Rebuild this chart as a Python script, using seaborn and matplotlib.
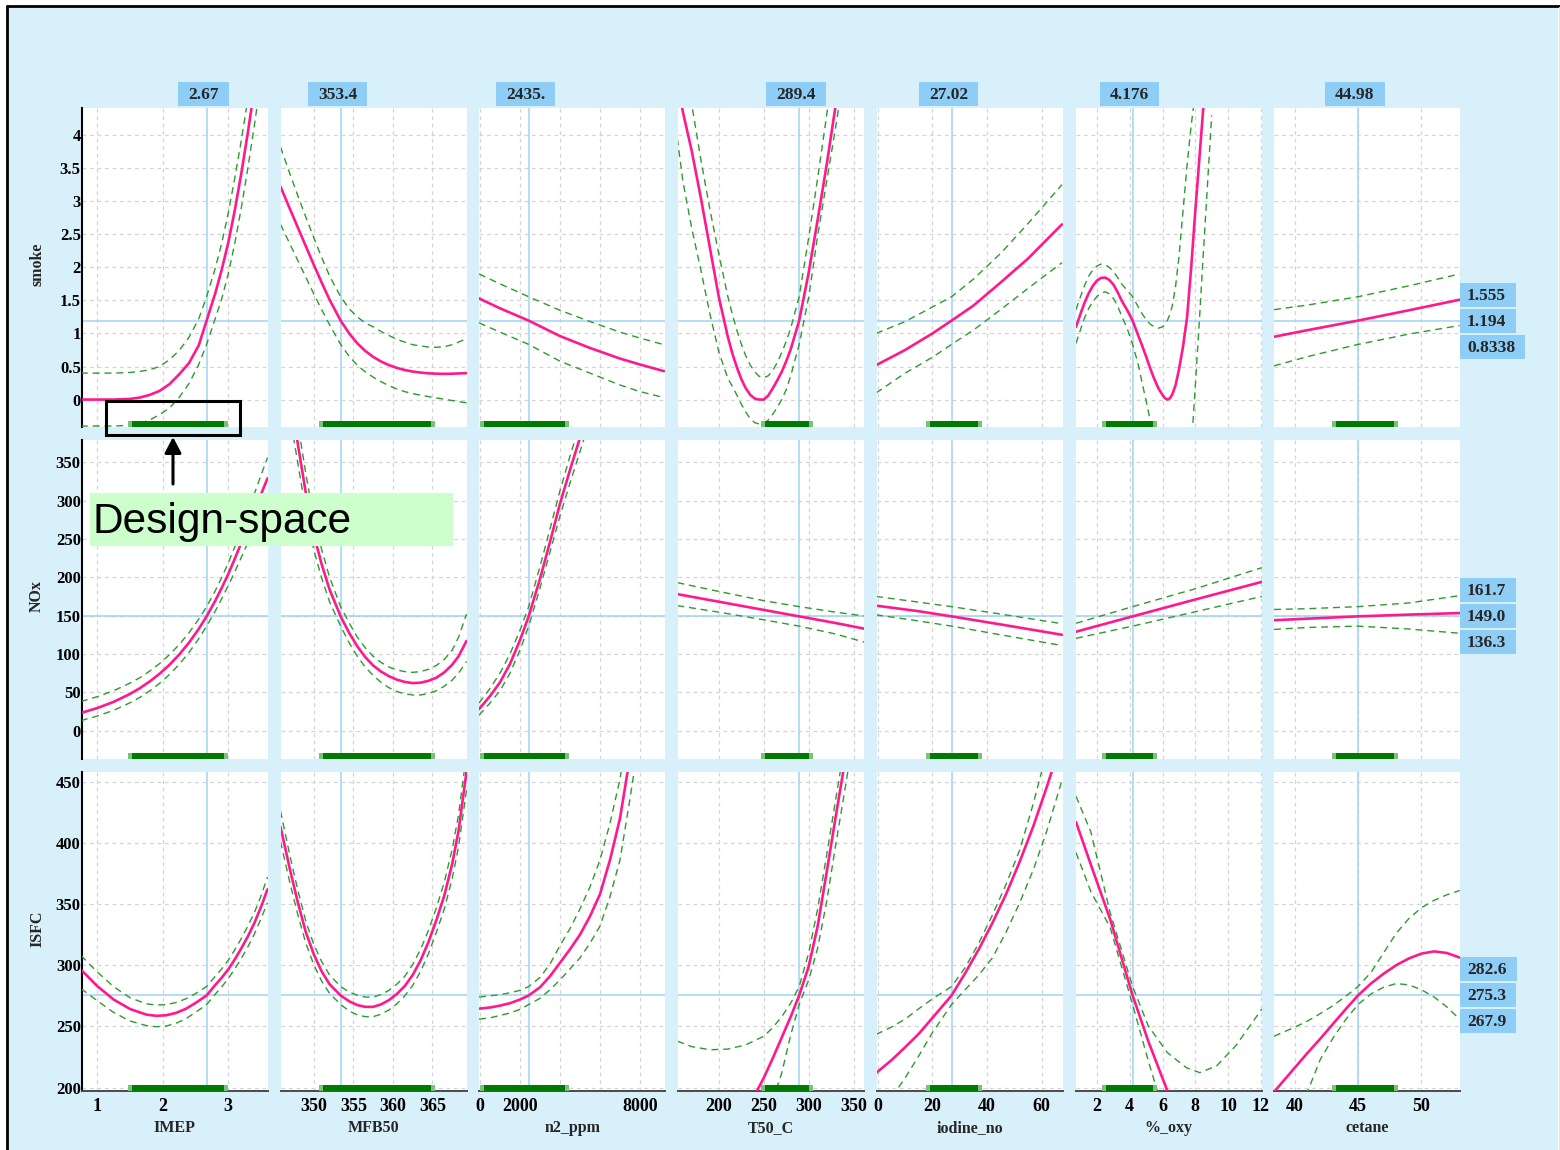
import matplotlib
matplotlib.use("Agg")
import matplotlib.pyplot as plt
from matplotlib import transforms
from matplotlib.patches import Rectangle, FancyArrowPatch
from matplotlib.lines import Line2D
import seaborn as sns

# ---------------------------------------------------------------- factors
factor_names = ["IMEP", "MFB50", "n2_ppm", "T50_C", "iodine_no", "%_oxy", "cetane"]
factor_setting = [2.67, 353.4, 2435.0, 289.4, 27.02, 4.176, 44.98]
factor_setting_text = ["2.67", "353.4", "2435.", "289.4", "27.02", "4.176", "44.98"]
design_low = [1.47, 350.7, 0.0, 247.0, 17.7, 2.3, 42.93]
design_high = [2.99, 365.3, 4450.0, 305.0, 38.2, 5.66, 48.15]
factor_xlim = [(0.76, 3.60), (345.8, 369.3), (-40, 9260), (154.0, 361.0),
               (-0.5, 67.7), (0.69, 12.04), (38.34, 53.05)]
factor_ticks = [[1, 2, 3], [350, 355, 360, 365], [0, 2000, 4000, 6000, 8000],
                [200, 250, 300, 350], [0, 20, 40, 60], [2, 4, 6, 8, 10, 12], [40, 45, 50]]
factor_ticklabels = [["1", "2", "3"], ["350", "355", "360", "365"],
                     ["0", "2000", "", "", "8000"], ["200", "250", "300", "350"],
                     ["0", "20", "40", "60"], ["2", "4", "6", "8", "10", "12"],
                     ["40", "45", "50"]]

# -------------------------------------------------------------- responses
response_names = ["smoke", "NOx", "ISFC"]
response_pred = [1.194, 149.0, 275.3]
response_text = [["1.555", "1.194", "0.8338"],
                 ["161.7", "149.0", "136.3"],
                 ["282.6", "275.3", "267.9"]]
response_ylim = [(-0.415, 4.41), (-37.0, 379.0), (197.3, 457.8)]
response_ticks = [[0, 0.5, 1, 1.5, 2, 2.5, 3, 3.5, 4],
                  [0, 50, 100, 150, 200, 250, 300, 350],
                  [200, 250, 300, 350, 400, 450]]
response_ticklabels = [["0", "0.5", "1", "1.5", "2", "2.5", "3", "3.5", "4"],
                       ["0", "50", "100", "150", "200", "250", "300", "350"],
                       ["200", "250", "300", "350", "400", "450"]]

# ------------------------------------------------------ factor sample points
x_imep = [0.75, 1.0, 1.25, 1.5, 1.65, 1.8, 1.95, 2.1, 2.25, 2.4, 2.55, 2.67, 2.8,
          2.9, 3.0, 3.1, 3.2, 3.3, 3.4, 3.5, 3.6]
x_imep_isfc = [0.75, 1.0, 1.25, 1.5, 1.75, 1.9, 2.05, 2.2, 2.35, 2.5, 2.67, 2.8, 2.9,
               3.0, 3.1, 3.2, 3.3, 3.4, 3.5, 3.6]
x_mfb50 = [345.8, 347, 348, 349, 350, 351, 352, 353.4, 354.5, 355.5, 356.5, 357.5,
           358.5, 359.5, 360.5, 361.5, 362.5, 363.5, 364.5, 365.5, 366.5, 367.5,
           368.3, 369.3]
x_n2_smoke = [-50, 1000, 2435, 4000, 5500, 7000, 8000, 9200]
x_n2_nox = [-50, 500, 1000, 1500, 2000, 2435, 3000, 3500, 4000, 4500, 5000, 5500]
x_n2_isfc = [-50, 500, 1000, 1500, 2000, 2435, 3000, 3500, 4000, 4500, 5000, 5500,
             6000, 6500, 7000, 7500, 8000]
x_t50_smoke = [153.8, 160, 170, 180, 190, 200, 210, 215, 220, 225, 230, 235, 240, 245,
               250, 255, 260, 265, 270, 275, 280, 289.4, 300, 310, 320, 330, 340]
x_t50_nox = [153.8, 200, 250, 289.4, 330, 361.6]
x_t50_isfc = [153.8, 170, 190, 210, 230, 250, 260, 270, 280, 289.4, 300, 310, 320, 330,
              340, 350]
x_iodine = [-0.66, 10, 20, 27.02, 35, 45, 55, 67.5]
x_iodine_nox = [-0.66, 15, 27.02, 45, 67.5]
x_iodine_isfc = [-0.66, 5, 10, 15, 20, 27.02, 32, 37, 42, 47, 52, 57, 62, 67.5]
x_oxy_smoke = [0.72, 1.0, 1.25, 1.5, 1.75, 2.0, 2.25, 2.5, 2.75, 3.0,
               3.25, 3.5, 3.85, 4.176, 4.5, 4.75, 5.0, 5.25, 5.5, 5.75,
               6.0, 6.15, 6.3, 6.45, 6.6, 6.8, 7.0, 7.25, 7.5, 7.75,
               8.0, 8.25, 8.5, 9.0]
x_oxy_nox = [0.72, 4.176, 8.0, 12.06]
x_oxy_isfc = [0.72, 1.63, 2.8, 4.176, 5.13, 6.3, 7.45, 8.27, 9.3, 10.46, 12.06]
x_cetane = [38.34, 41, 44.98, 49, 53.02]
x_cetane_isfc = [38.34, 39, 40, 41, 42, 43, 44, 44.98, 46, 47, 48, 49, 50, 51, 52, 53.02]

# ------------------------------------------------------------------ smoke
smoke_imep = [0.0, 0.0, 0.0, 0.01, 0.03, 0.07, 0.13, 0.23, 0.38, 0.55, 0.82, 1.194, 1.60,
              1.96, 2.37, 2.86, 3.42, 4.04, 4.7, 5.4, 6.1]
smoke_imep_hi = [0.40, 0.40, 0.40, 0.41, 0.425, 0.45, 0.50, 0.60, 0.74, 0.94, 1.22, 1.555,
                 1.98, 2.36, 2.82, 3.35, 3.92, 4.55, 5.2, 5.9, 6.6]
smoke_imep_lo = [-0.40, -0.40, -0.40, -0.39, -0.36, -0.31, -0.23, -0.13, 0.03, 0.24, 0.53,
                 0.834, 1.22, 1.52, 1.90, 2.36, 2.90, 3.5, 4.15, 4.85, 5.55]

smoke_mfb50 = [3.22, 2.88, 2.60, 2.32, 2.04, 1.77, 1.51, 1.194, 0.996, 0.851, 0.736, 0.646,
               0.576, 0.521, 0.479, 0.447, 0.424, 0.408, 0.397, 0.391, 0.389, 0.391,
               0.395, 0.40]
smoke_mfb50_hi = [3.82, 3.41, 3.08, 2.76, 2.45, 2.15, 1.87, 1.555, 1.37, 1.25, 1.16, 1.10,
                  1.03, 0.97, 0.91, 0.87, 0.83, 0.81, 0.795, 0.79, 0.80, 0.83, 0.87, 0.92]
smoke_mfb50_lo = [2.65, 2.35, 2.10, 1.85, 1.60, 1.36, 1.13, 0.834, 0.65, 0.52, 0.42, 0.34,
                  0.27, 0.21, 0.16, 0.12, 0.09, 0.065, 0.045, 0.025, 0.005, -0.015, -0.03,
                  -0.05]

smoke_n2 = [1.53, 1.38, 1.194, 0.96, 0.78, 0.62, 0.53, 0.43]
smoke_n2_hi = [1.90, 1.75, 1.555, 1.35, 1.18, 1.02, 0.93, 0.83]
smoke_n2_lo = [1.16, 1.02, 0.834, 0.58, 0.40, 0.22, 0.12, 0.03]

smoke_t50 = [4.8, 4.35, 3.75, 3.05, 2.30, 1.55, 0.95, 0.70, 0.49, 0.31, 0.17, 0.07, 0.015,
             0.0, 0.0, 0.06, 0.17, 0.29, 0.42, 0.58, 0.76, 1.194, 1.92, 2.72, 3.55, 4.45, 5.4]
smoke_t50_hi = [5.8, 5.25, 4.45, 3.63, 2.88, 2.2, 1.56, 1.29, 1.05, 0.84, 0.66, 0.52, 0.42,
                0.35, 0.33, 0.36, 0.44, 0.56, 0.71, 0.88, 1.08, 1.555, 2.45, 3.35, 4.3, 5.3, 6.3]
smoke_t50_lo = [3.95, 3.3, 2.58, 1.96, 1.30, 0.72, 0.32, 0.20, 0.07, -0.07, -0.19, -0.29,
                -0.35, -0.37, -0.36, -0.31, -0.22, -0.12, 0.0, 0.15, 0.36, 0.834, 1.55, 2.48,
                3.30, 4.12, 5.0]

smoke_iodine = [0.52, 0.75, 1.0, 1.194, 1.42, 1.77, 2.13, 2.65]
smoke_iodine_hi = [1.00, 1.18, 1.40, 1.555, 1.82, 2.21, 2.66, 3.25]
smoke_iodine_lo = [0.10, 0.40, 0.64, 0.834, 1.05, 1.36, 1.68, 2.07]

smoke_oxy = [1.10, 1.30, 1.47, 1.61, 1.72, 1.80, 1.84, 1.845, 1.81, 1.74,
             1.63, 1.50, 1.35, 1.194, 0.98, 0.82, 0.65, 0.47, 0.31, 0.17,
             0.07, 0.02, 0.0, 0.02, 0.08, 0.22, 0.45, 0.80, 1.25, 2.0,
             2.85, 3.65, 4.45, 6.0]
smoke_oxy_hi = [1.36, 1.56, 1.73, 1.87, 1.96, 2.02, 2.05, 2.04, 2.00, 1.94,
                1.85, 1.75, 1.65, 1.555, 1.41, 1.30, 1.21, 1.14, 1.10, 1.08,
                1.10, 1.14, 1.20, 1.29, 1.42, 1.72, 2.15, 2.85, 3.55, 4.15,
                4.65, 5.15, 5.65, 6.8]
smoke_oxy_lo = [0.85, 1.06, 1.24, 1.38, 1.48, 1.56, 1.61, 1.63, 1.60, 1.53,
                1.42, 1.27, 1.07, 0.834, 0.55, 0.26, -0.02, -0.32, -0.6, -0.88,
                -1.1, -1.25, -1.4, -1.5, -1.6, -1.7, -1.7, -1.6, -1.3, -0.75,
                0.2, 1.2, 2.25, 4.3]

smoke_cetane = [0.95, 1.05, 1.194, 1.35, 1.51]
smoke_cetane_hi = [1.36, 1.43, 1.555, 1.72, 1.90]
smoke_cetane_lo = [0.51, 0.65, 0.834, 0.99, 1.12]

# -------------------------------------------------------------------- NOx
nox_imep = [23, 29.4, 37.5, 47.8, 55.3, 64, 74, 85.6, 99, 114.6, 132.6, 149.0, 169, 186,
            204, 224, 245, 266, 287, 308, 329]
nox_imep_hi = [38, 44.2, 52, 62, 69, 77.5, 87.3, 98.8, 112, 127.5, 145.4, 161.7, 182,
               199.5, 218.5, 239.5, 261.5, 285, 309, 333, 356]
nox_imep_lo = [13, 19, 26.5, 36.3, 43.3, 51.7, 61.5, 72.9, 86.2, 101.8, 119.8, 136.3,
               155.5, 172, 189, 207, 226, 245, 264, 283, 302]

nox_mfb50 = [530, 445, 373, 310, 256, 217, 184, 149.0, 127, 110, 96, 85, 77, 71, 66.5,
             63.5, 62, 62.5, 65, 69, 76, 86, 97, 117]
nox_mfb50_hi = [575, 480, 400, 335, 278, 236, 200, 161.7, 140, 122, 108, 97, 89, 83, 79,
                77, 76, 77, 80, 85, 93, 105, 122, 152]
nox_mfb50_lo = [490, 410, 348, 287, 236, 199, 168, 136.3, 114, 97, 83, 72, 63, 56, 51,
                48, 46.5, 46.5, 48.5, 52, 58, 66, 75, 90]

nox_n2 = [28, 45, 63, 87, 118, 149.0, 198, 246, 296, 340, 382, 425]
nox_n2_hi = [36, 55, 75, 100, 131, 161.7, 214, 263, 313, 358, 400, 445]
nox_n2_lo = [20, 36, 52, 75, 105, 136.3, 186, 233, 280, 323, 364, 405]

nox_t50 = [178, 168.1, 157.4, 149.0, 140.3, 133]
nox_t50_hi = [193, 181.5, 169.5, 161.7, 154.5, 149.5]
nox_t50_lo = [163, 154.5, 144.5, 136.3, 126, 115.5]

nox_iodine = [163, 155.7, 149.0, 138.5, 125]
nox_iodine_hi = [175, 167.5, 161.7, 152, 139.5]
nox_iodine_lo = [151, 143, 136.3, 125, 111]

nox_oxy = [129, 149.0, 171, 194]
nox_oxy_hi = [140, 161.7, 185, 212.5]
nox_oxy_lo = [120.4, 136.3, 155, 175]

nox_cetane = [144, 146, 149.0, 151.3, 153.3]
nox_cetane_hi = [158, 159, 161.7, 166.5, 176]
nox_cetane_lo = [132, 134.5, 136.3, 132.5, 127]

# ------------------------------------------------------------------- ISFC
isfc_imep = [296.5, 283, 272, 264.3, 259.7, 258.7, 259.1, 261, 264.3, 269.1, 275.3, 283.7,
             289.8, 296.5, 304.7, 313.8, 323.5, 334.5, 347.5, 362]
isfc_imep_hi = [308, 294.5, 282.5, 273.5, 268.5, 267.5, 267.8, 269.5, 272.5, 276.8, 282.6,
                290.8, 297, 304, 312.5, 321.8, 332, 343, 356.5, 372]
isfc_imep_lo = [281, 271, 261.5, 254.5, 250.7, 249.8, 250.3, 252.5, 256.2, 261.5, 267.9,
                276.3, 282.3, 289, 297, 305.5, 315, 325.5, 338, 351]

isfc_mfb50 = [413, 378, 351, 327, 309, 295, 284.5, 275.3, 270.5, 267.5, 266, 266, 268,
              271.5, 276.5, 283, 292, 304, 319, 337, 357, 383, 410, 458]
isfc_mfb50_hi = [426, 389, 361, 336, 317, 303, 292, 282.6, 278, 275.5, 274, 274, 276,
                 279.5, 284.5, 291, 300.5, 313, 328.5, 347, 368, 395, 423, 473]
isfc_mfb50_lo = [401, 367, 341, 318, 300.5, 287, 277, 267.9, 262.5, 259.5, 258, 258, 260,
                 263.5, 268.5, 275, 283.5, 295, 309.5, 327, 346, 371, 397, 443]

isfc_n2 = [264.5, 265.5, 267, 269, 272, 275.3, 282, 291, 302, 313, 325, 340, 358, 386,
           420, 470, 528]
isfc_n2_hi = [274, 275, 276, 277.5, 279.5, 282.6, 290, 301, 316, 330, 346, 364, 386, 416,
              452, 505, 565]
isfc_n2_lo = [256, 257, 259, 261, 264, 267.9, 273, 280, 288, 297, 306, 318, 332, 356,
              386, 436, 490]

isfc_t50 = [120, 130, 145, 160, 180, 208, 224, 241, 258, 275.3, 299, 332, 376, 421, 465, 510]
isfc_t50_hi = [238, 233.5, 231, 231.5, 235, 242, 249, 258, 269, 282.6, 310, 346, 390, 435,
               480, 525]
isfc_t50_lo = [100, 110, 120, 135, 150, 170, 190, 212, 243, 267.9, 288, 314, 352, 398,
               442, 487]

isfc_iodine = [212, 222.5, 233, 244, 257, 275.3, 293.5, 313, 334.5, 358, 384.5, 413.5,
               446, 484]
isfc_iodine_hi = [243.5, 249.5, 256, 264.5, 272.5, 282.6, 298, 318, 341, 366, 394, 432,
                  475, 525]
isfc_iodine_lo = [178, 192, 208, 226, 245, 267.9, 280, 292, 306, 327, 351, 378, 410, 451]

isfc_oxy = [417, 382, 337.8, 275.3, 238, 197.3, 155, 123, 83, 38, -25]
isfc_oxy_hi = [438, 408.7, 343.2, 282.6, 250.5, 228.6, 216.4, 212.3, 217.8, 234.1, 264.2]
isfc_oxy_lo = [392, 360, 331, 267.9, 222, 170, 122, 86, 42, -10, -80]

isfc_cetane = [196.5, 204.5, 216.5, 228.5, 240, 252, 264, 275.3, 285, 293, 300, 305.5,
               309.5, 311.3, 310, 306.3]
isfc_cetane_hi = [242, 245, 249.5, 254.5, 260.5, 267, 274.5, 282.6, 294, 310, 326, 338,
                  347, 353, 357.5, 361]
isfc_cetane_lo = [120, 140, 165, 197, 223, 240.5, 255.5, 267.9, 276.5, 282, 285, 284,
                  280, 274, 266, 256]

# (x, prediction, lower bound, upper bound) for each response row / factor column
curves = [
    [(x_imep, smoke_imep, smoke_imep_lo, smoke_imep_hi),
     (x_mfb50, smoke_mfb50, smoke_mfb50_lo, smoke_mfb50_hi),
     (x_n2_smoke, smoke_n2, smoke_n2_lo, smoke_n2_hi),
     (x_t50_smoke, smoke_t50, smoke_t50_lo, smoke_t50_hi),
     (x_iodine, smoke_iodine, smoke_iodine_lo, smoke_iodine_hi),
     (x_oxy_smoke, smoke_oxy, smoke_oxy_lo, smoke_oxy_hi),
     (x_cetane, smoke_cetane, smoke_cetane_lo, smoke_cetane_hi)],
    [(x_imep, nox_imep, nox_imep_lo, nox_imep_hi),
     (x_mfb50, nox_mfb50, nox_mfb50_lo, nox_mfb50_hi),
     (x_n2_nox, nox_n2, nox_n2_lo, nox_n2_hi),
     (x_t50_nox, nox_t50, nox_t50_lo, nox_t50_hi),
     (x_iodine_nox, nox_iodine, nox_iodine_lo, nox_iodine_hi),
     (x_oxy_nox, nox_oxy, nox_oxy_lo, nox_oxy_hi),
     (x_cetane, nox_cetane, nox_cetane_lo, nox_cetane_hi)],
    [(x_imep_isfc, isfc_imep, isfc_imep_lo, isfc_imep_hi),
     (x_mfb50, isfc_mfb50, isfc_mfb50_lo, isfc_mfb50_hi),
     (x_n2_isfc, isfc_n2, isfc_n2_lo, isfc_n2_hi),
     (x_t50_isfc, isfc_t50, isfc_t50_lo, isfc_t50_hi),
     (x_iodine_isfc, isfc_iodine, isfc_iodine_lo, isfc_iodine_hi),
     (x_oxy_isfc, isfc_oxy, isfc_oxy_lo, isfc_oxy_hi),
     (x_cetane_isfc, isfc_cetane, isfc_cetane_lo, isfc_cetane_hi)],
]

# ------------------------------------------------------------------ style
sns.set_theme(style="white")
plt.rcParams["font.family"] = ["Liberation Serif", "DejaVu Serif"]
plt.rcParams["font.weight"] = "bold"
plt.rcParams["lines.solid_joinstyle"] = "round"

BG = "#d8f0fa"
BOX = "#8ecdf6"
PINK = "#ff1a8c"
GREEN = "#2e9a2e"
REF = "#9fd3f3"
GRID = "#d4d4d4"

W, H = 1560, 1150
col_left = [81.5, 280.5, 479.2, 677.5, 876.5, 1075.5, 1274.0]
col_w = 186.0
row_top = [108.0, 440.0, 772.0]
row_h = 319.0


def fx(px):
    return px / W


def fy(py):
    return 1.0 - py / H


fig = plt.figure(figsize=(W / 100, H / 100), dpi=100, facecolor="white")

# light-blue canvas with a black frame on the left and top
fig.add_artist(Rectangle((fx(7), fy(H + 5)), fx(1558) - fx(7), fy(6) - fy(H + 5),
                         transform=fig.transFigure, facecolor=BG, edgecolor="none",
                         zorder=-10))
fig.add_artist(Line2D([fx(7), fx(7)], [fy(6), fy(H + 5)], color="black", lw=2.0,
                      transform=fig.transFigure, zorder=-9))
fig.add_artist(Line2D([fx(7), fx(1560)], [fy(6), fy(6)], color="black", lw=2.0,
                      transform=fig.transFigure, zorder=-9))
fig.add_artist(Line2D([fx(1559), fx(1559)], [fy(7), fy(H + 5)], color="#e6e2d6", lw=0.8,
                      transform=fig.transFigure, zorder=-9))

axes = []
for i in range(3):
    row_axes = []
    for j in range(7):
        ax = fig.add_axes([fx(col_left[j]), fy(row_top[i] + row_h), col_w / W, row_h / H])
        ax.set_facecolor("white")
        xs, fit, lo, hi = curves[i][j]

        sns.lineplot(x=xs, y=lo, ax=ax, color=GREEN, linewidth=1.0,
                     linestyle=(0, (5, 3.5)), zorder=4)
        sns.lineplot(x=xs, y=hi, ax=ax, color=GREEN, linewidth=1.0,
                     linestyle=(0, (5, 3.5)), zorder=4)
        sns.lineplot(x=xs, y=fit, ax=ax, color=PINK, linewidth=1.9, zorder=5)

        ax.axvline(factor_setting[j], color=REF, lw=1.1, zorder=2)
        ax.axhline(response_pred[i], color=REF, lw=1.1, zorder=2)

        # design-space extent of the factor
        trans = transforms.blended_transform_factory(ax.transData, ax.transAxes)
        x0, x1 = factor_xlim[j]
        inset = (x1 - x0) / col_w * 4.0
        bar_h = 6.0 / row_h
        ax.add_patch(Rectangle((design_low[j], 0.0), design_high[j] - design_low[j], bar_h,
                               transform=trans, facecolor="#7cc07c", edgecolor="none",
                               zorder=6))
        ax.add_patch(Rectangle((design_low[j] + inset, 0.0),
                               design_high[j] - design_low[j] - 2 * inset, bar_h,
                               transform=trans, facecolor="#007a00", edgecolor="none",
                               zorder=7))

        ax.set_xlim(*factor_xlim[j])
        ax.set_ylim(*response_ylim[i])
        ax.set_xticks(factor_ticks[j])
        ax.set_yticks(response_ticks[i])
        ax.grid(True, color=GRID, linestyle=(0, (3, 3)), linewidth=0.9)
        ax.set_axisbelow(True)
        ax.set_xlabel("")
        ax.set_ylabel("")
        for s in ax.spines.values():
            s.set_visible(False)

        if i == 2:
            ax.set_xticklabels(factor_ticklabels[j])
            ax.spines["bottom"].set_visible(True)
            ax.spines["bottom"].set_color("#4a4a4a")
            ax.spines["bottom"].set_linewidth(1.4)
            ax.tick_params(axis="x", length=4, width=1.0, color="#4a4a4a",
                           direction="out", pad=1, labelsize=13, labelcolor="black")
        else:
            ax.tick_params(axis="x", length=0, labelbottom=False)

        if j == 0:
            ax.set_yticklabels(response_ticklabels[i])
            ax.spines["left"].set_visible(True)
            ax.spines["left"].set_color("black")
            ax.spines["left"].set_linewidth(1.5)
            ax.tick_params(axis="y", length=0, pad=0.5, labelsize=12, labelcolor="black")
        else:
            ax.tick_params(axis="y", length=0, labelleft=False)
        row_axes.append(ax)
    axes.append(row_axes)

# axis titles
for i, name in enumerate(response_names):
    fig.text(fx(37), fy(row_top[i] + row_h / 2 - 3), name, rotation=90,
             ha="center", va="center", fontsize=11.5)
for j, name in enumerate(factor_names):
    fig.text(fx(col_left[j] + col_w / 2), fy(1128), name,
             ha="center", va="center", fontsize=11.5)

renderer = fig.canvas.get_renderer()

# current factor settings above each column
for j, label in enumerate(factor_setting_text):
    cx = axes[0][j].transData.transform((factor_setting[j], 0.0))[0] - 3
    t = fig.text(fx(cx), fy(95), label, ha="center", va="center", fontsize=12.5, zorder=12)
    bw = t.get_window_extent(renderer).width + 20
    fig.add_artist(Rectangle((fx(cx - bw / 2), fy(106)), bw / W, 24 / H,
                             transform=fig.transFigure, facecolor=BOX,
                             edgecolor="none", zorder=11))

# prediction and interval readouts at the right of each row
for i in range(3):
    yc = H - axes[i][6].transData.transform((0.0, response_pred[i]))[1]
    for k, label in enumerate(response_text[i]):
        top = yc - 12 + (k - 1) * 26
        t = fig.text(fx(1467), fy(top + 13), label, ha="left", va="center",
                     fontsize=12.5, zorder=12)
        bw = t.get_window_extent(renderer).width + 17
        fig.add_artist(Rectangle((fx(1460), fy(top + 24)), bw / W, 24 / H,
                                 transform=fig.transFigure, facecolor=BOX,
                                 edgecolor="none", zorder=11))

# design-space callout
fig.add_artist(Rectangle((fx(106), fy(435)), (240 - 106) / W, (435 - 401) / H,
                         transform=fig.transFigure, facecolor="none",
                         edgecolor="black", lw=2.2, zorder=13))
fig.add_artist(FancyArrowPatch((fx(173), fy(484)), (fx(173), fy(437)),
                               transform=fig.transFigure,
                               arrowstyle="-|>,head_length=0.95,head_width=0.5",
                               mutation_scale=10, lw=2.2, color="black",
                               shrinkA=0, shrinkB=0, zorder=13))
fig.add_artist(Rectangle((fx(90), fy(546)), (453 - 90) / W, (546 - 493) / H,
                         transform=fig.transFigure, facecolor="#ccffcc",
                         edgecolor="none", zorder=13))
fig.text(fx(92), fy(522), "Design-space", ha="left", va="center", fontsize=30.5,
         family=["Liberation Sans", "DejaVu Sans"], fontweight="normal",
         color="black", zorder=14)

fig.savefig("out.png", dpi=100, facecolor="white")
